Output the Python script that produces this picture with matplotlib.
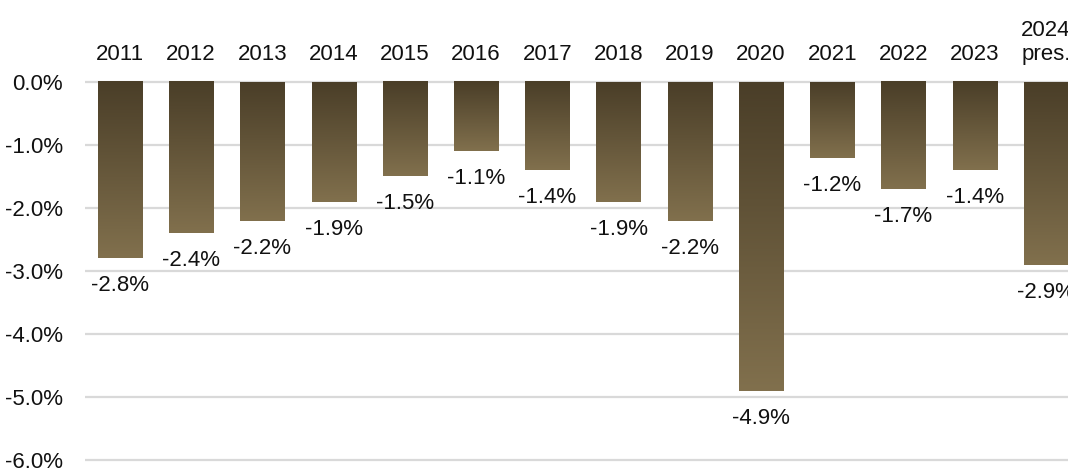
import numpy as np
import matplotlib
matplotlib.use("Agg")
import matplotlib.pyplot as plt
from matplotlib.colors import LinearSegmentedColormap

years = ["2011", "2012", "2013", "2014", "2015", "2016", "2017",
         "2018", "2019", "2020", "2021", "2022", "2023", "2024\npres."]
balance = [-2.8, -2.4, -2.2, -1.9, -1.5, -1.1, -1.4,
           -1.9, -2.2, -4.9, -1.2, -1.7, -1.4, -2.9]
yticks = [0, -1, -2, -3, -4, -5, -6]

plt.rcParams["font.family"] = ["Liberation Sans Narrow", "Liberation Sans", "DejaVu Sans"]

fig = plt.figure(figsize=(10.68, 4.69), dpi=100)
ax = fig.add_axes([85 / 1068, 7 / 469, 1 - 85 / 1068, 382 / 469])

# dark at the top of each bar, lighter toward its end
bar_cmap = LinearSegmentedColormap.from_list("bronze", ["#4a3e28", "#81704d"])
grad = np.linspace(0, 1, 256).reshape(-1, 1)
width = 0.62

x = np.arange(len(years))
bars = ax.bar(x, balance, width=width, color="none", zorder=2)
for rect, val in zip(bars, balance):
    x0 = rect.get_x()
    ax.imshow(grad, cmap=bar_cmap, aspect="auto", zorder=2,
              extent=(x0, x0 + width, val, 0), origin="upper")
    ax.annotate(f"{val:.1f}%", (rect.get_x() + width / 2, val),
                xytext=(0, -17), textcoords="offset pixels",
                ha="center", va="top", fontsize=16, color="#111111")

ax.set_xlim(-0.49, 13.31)
ax.set_ylim(-6.03, 0.03)
ax.set_yticks(yticks)
ax.set_yticklabels([f"{v:.1f}%" for v in yticks])
ax.set_xticks(x)
ax.set_xticklabels(years)
ax.xaxis.tick_top()

ax.tick_params(axis="both", length=0, labelsize=16, colors="#111111")
ax.tick_params(axis="x", pad=11)
ax.tick_params(axis="y", pad=16)
ax.grid(axis="y", color="#d9d9d9", linewidth=1.6, zorder=0)
ax.set_axisbelow(True)
for spine in ax.spines.values():
    spine.set_visible(False)

fig.savefig("out.png", dpi=100)
